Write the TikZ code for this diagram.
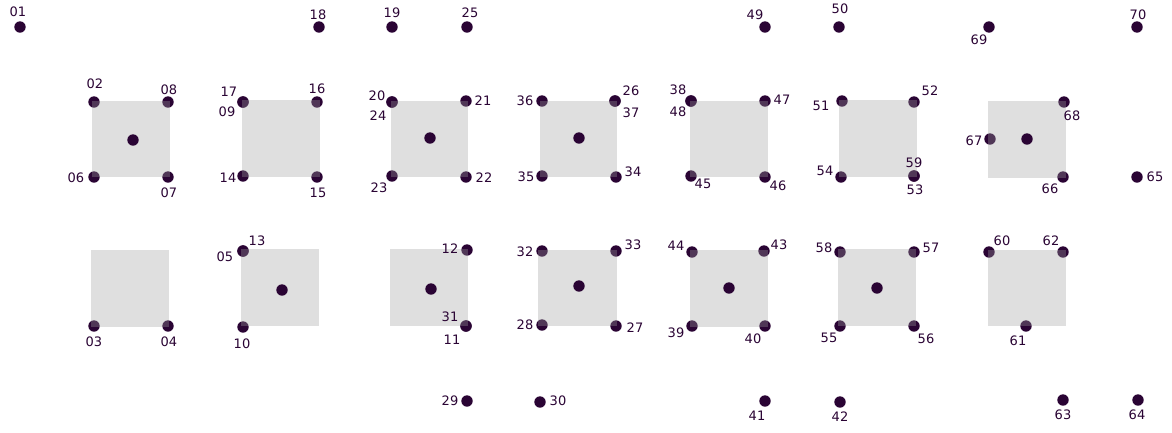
\documentclass[tikz,border=0pt]{standalone}
\usepackage{fontspec}
\setmainfont{DejaVu Sans}
\definecolor{dotc}{RGB}{42,4,52}
\definecolor{sqc}{RGB}{160,160,160}
\begin{document}
\begin{tikzpicture}[x=1pt,y=-1pt,
  dot/.style={circle,fill=dotc,inner sep=0pt,minimum size=11.4pt},
  sq/.style={fill=sqc,fill opacity=0.33},
  lab/.style={text=dotc,inner sep=0pt,font=\fontsize{13}{15}\selectfont}]
\useasboundingbox[fill=white] (0,0) rectangle (1172,432);
% numbered dots
\foreach \n/\x/\y in {01/20/27,02/94/102,03/94/326,04/168/326,05/243/251,06/94/177,07/168/177,08/168/102,09/243/102,10/243/327,
  11/466/326,12/467/250,13/243/251,14/243/176,15/317/177,16/317/102,17/243/102,18/319/27,19/392/27,20/392/102,
  21/466/101,22/466/177,23/392/176,24/392/102,25/467/27,26/615/101,27/616/326,28/542/325,29/467/401,30/540/402,
  31/466/326,32/542/251,33/616/251,34/616/177,35/542/176,36/542/101,37/615/101,38/691/101,39/692/326,40/765/326,
  41/765/401,42/840/402,43/764/251,44/692/252,45/691/176,46/765/177,47/765/101,48/691/101,49/765/27,50/839/27,
  51/842/101,52/914/102,53/914/176,54/841/177,55/840/326,56/914/326,57/914/252,58/840/252,59/914/176,60/989/252,
  61/1026/326,62/1063/252,63/1063/400,64/1138/400,65/1137/177,66/1063/177,67/990/139,68/1064/102,69/989/27,70/1137/27}
  \node[dot] (d\n) at (\x,\y) {};
% squares (drawn over the corner dots)
\foreach \i/\xa/\ya/\xb/\yb in {1/92/101/170/177,2/242/100/320/177,3/391/101/468/177,4/540/101/617/177,5/690/101/768/177,6/839/100/917/177,7/988/101/1066/178,
  8/91/250/169/327,9/241/249/319/326,10/390/249/468/326,11/538/250/617/326,12/690/250/768/327,13/838/249/916/326,14/988/250/1066/326}
  \path[sq] (\xa,\ya) rectangle (\xb,\yb);
% centre dots
\foreach \n/\x/\y in {c1/133/140,c3/430/138,c4/579/138,c7/1027/139,b2/282/290,b3/431/289,b4/579/286,b5/729/288,b6/877/288}
  \node[dot] (\n) at (\x,\y) {};
% labels
\foreach \n/\x/\y in {01/18/12,02/95/84,03/94/342,04/169/342,05/225/257,06/76/178,07/169/193,08/169/90,09/227/112,10/242/344,
  11/452/340,12/450/249,13/257/241,14/228/178,15/318/193,16/317/89,17/229/92,18/318/15,19/392/13,20/377/96,
  21/483/101,22/484/178,23/379/188,24/378/116,25/470/13,26/631/91,27/635/328,28/525/325,29/450/401,30/558/401,
  31/450/317,32/525/252,33/633/245,34/633/172,35/526/177,36/525/101,37/631/113,38/678/90,39/676/333,40/753/339,
  41/757/416,42/840/417,43/779/245,44/676/246,45/703/184,46/778/186,47/782/100,48/678/112,49/755/15,50/840/9,
  51/821/106,52/930/91,53/915/190,54/825/171,55/829/338,56/926/339,57/931/248,58/824/248,59/914/163,60/1002/241,
  61/1018/341,62/1051/241,63/1063/415,64/1137/415,65/1155/177,66/1050/189,67/974/141,68/1072/116,69/979/40,70/1138/15}
  \node[lab] (l\n) at (\x,\y) {\n};
\end{tikzpicture}
\end{document}
